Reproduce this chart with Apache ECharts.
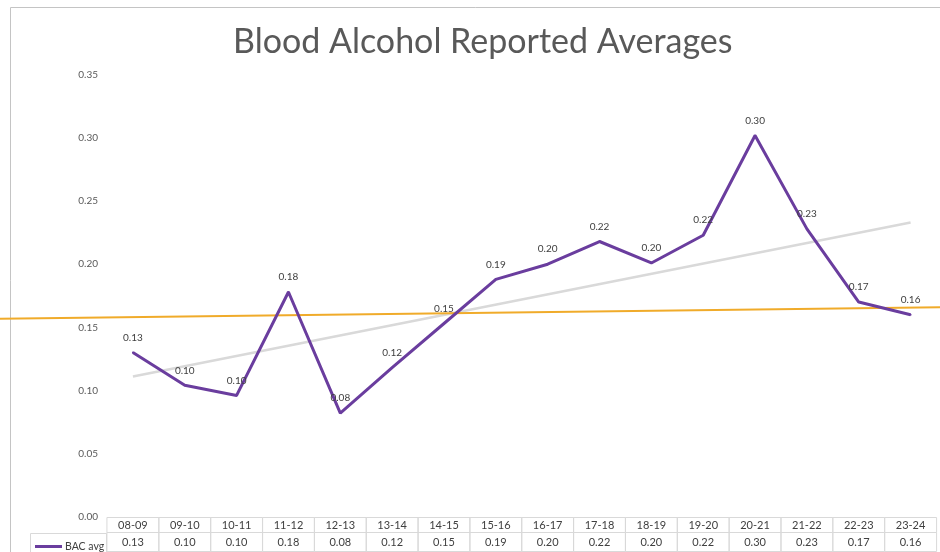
<!DOCTYPE html>
<html>
<head>
<meta charset="utf-8">
<script src="https://cdn.jsdelivr.net/npm/echarts@6/dist/echarts.min.js"></script>
<style>
  html, body { margin: 0; padding: 0; background: #fff; }
  #main { width: 940px; height: 552px; }
</style>
</head>
<body>
<div id="main"></div>
<script>
// seasons on the category axis
var seasons = ['08-09', '09-10', '10-11', '11-12', '12-13', '13-14', '14-15', '15-16',
               '16-17', '17-18', '18-19', '19-20', '20-21', '21-22', '22-23', '23-24'];
// BAC averages
var bacAvg = [0.130, 0.104, 0.096, 0.178, 0.082, 0.118, 0.153, 0.188,
              0.200, 0.218, 0.201, 0.223, 0.302, 0.228, 0.170, 0.160];
// gray linear trend, [season index, value]
var trendLine = [[0, 0.111], [15, 0.233]];
// orange reference line, runs across the whole chart width (season index units)
var refLine = [[-2.56, 0.157], [15.52, 0.166]];

var dom = document.getElementById('main');
var myChart = echarts.init(dom, null, { renderer: 'canvas' });
var FONT = 'Lato, "Open Sans", sans-serif';
var PURPLE = '#6a3d9e';

var option = {
    animation: false,
    textStyle: { fontFamily: FONT },
    title: {
        text: 'Blood Alcohol Reported Averages',
        left: 228,
        top: 20,
        textStyle: { fontFamily: FONT, fontSize: 34, fontWeight: 'normal', color: '#595959' }
    },
    legend: {
        data: [{ name: 'BAC avg', icon: 'rect' }],
        left: 30,
        top: 536,
        itemWidth: 27,
        itemHeight: 3,
        itemStyle: { color: PURPLE },
        textStyle: { fontFamily: FONT, fontSize: 10.5, color: '#404040', padding: [0, 0, 0, -2] }
    },
    graphic: [
        {   // outer chart frame
            type: 'rect', silent: true, z: -1,
            shape: { x: 10.5, y: 7.5, width: 940, height: 560 },
            style: { fill: null, stroke: '#c4c4c4', lineWidth: 1 }
        },
        {   // legend cell of the data table
            type: 'rect', silent: true,
            shape: { x: 30.5, y: 533.5, width: 76, height: 22 },
            style: { fill: null, stroke: '#d9d9d9', lineWidth: 1 }
        }
    ],
    grid: [
        { left: 107, right: 1, top: 75, bottom: 35 },
        { left: 0, right: 0, top: 75, bottom: 35 }
    ],
    xAxis: [
        {
            type: 'category',
            gridIndex: 0,
            data: seasons,
            boundaryGap: true,
            axisLine: { show: false },
            axisTick: { show: false },
            axisLabel: {
                interval: 0,
                margin: 1,
                formatter: function (value, idx) {
                    return '{c|' + value + '}\n{v|' + bacAvg[idx].toFixed(2) + '}';
                },
                rich: {
                    c: { width: 52, height: 15, align: 'center', fontSize: 11, color: '#404040',
                         fontFamily: FONT, borderColor: '#d9d9d9', borderWidth: 1 },
                    v: { width: 52, height: 19, align: 'center', fontSize: 11, color: '#404040',
                         fontFamily: FONT, borderColor: '#d9d9d9', borderWidth: 1 }
                }
            }
        },
        {   // same index units as the categories, for the trend line
            type: 'value', gridIndex: 0, min: -0.5, max: 15.5, show: false
        },
        {   // full-width axis for the reference line
            type: 'value', gridIndex: 1, min: -2.558, max: 15.519, show: false
        }
    ],
    yAxis: [
        {
            type: 'value',
            gridIndex: 0,
            min: 0,
            max: 0.35,
            interval: 0.05,
            axisLine: { show: false },
            axisTick: { show: false },
            splitLine: { show: false },
            axisLabel: {
                margin: 9,
                fontSize: 10,
                color: '#595959',
                formatter: function (v) { return v.toFixed(2); }
            }
        },
        {
            type: 'value', gridIndex: 1, min: 0, max: 0.35, interval: 0.05, show: false
        }
    ],
    series: [
        {
            name: 'trend',
            type: 'line',
            xAxisIndex: 1,
            yAxisIndex: 0,
            data: trendLine,
            symbol: 'none',
            silent: true,
            lineStyle: { color: '#d9d9d9', width: 2.5 },
            z: 1
        },
        {
            name: 'reference',
            type: 'line',
            xAxisIndex: 2,
            yAxisIndex: 1,
            data: refLine,
            symbol: 'none',
            silent: true,
            lineStyle: { color: '#f0ab2a', width: 2 },
            z: 2
        },
        {
            name: 'BAC avg',
            type: 'line',
            data: bacAvg,
            symbol: 'circle',
            symbolSize: 2,
            showSymbol: true,
            itemStyle: { color: PURPLE },
            lineStyle: { color: PURPLE, width: 3 },
            label: {
                show: true,
                position: 'top',
                distance: 9,
                fontSize: 10,
                color: '#404040',
                fontFamily: FONT
            },
            z: 3
        }
    ]
};

// table and point labels show two decimals
option.series[2].label.formatter = function (p) { return Number(p.value).toFixed(2); };

if (option && typeof option === 'object') {
    myChart.setOption(option);
}
window.addEventListener('resize', myChart.resize);
</script>
</body>
</html>
